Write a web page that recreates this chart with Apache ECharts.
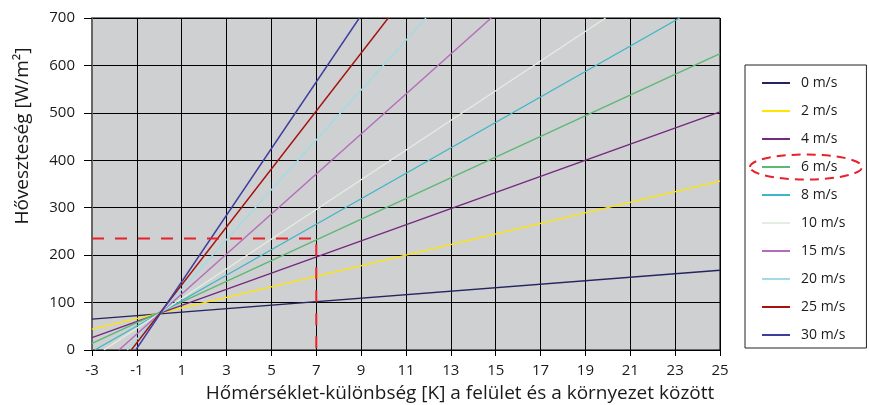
<!DOCTYPE html>
<html>
<head>
<meta charset="utf-8">
<script src="https://cdn.jsdelivr.net/npm/echarts@6/dist/echarts.min.js"></script>
<style>
html,body{margin:0;padding:0;background:#fff;}
#c{width:869px;height:405px;}
</style>
</head>
<body>
<div id="c"></div>
<script>
// ---- data ----
const xTickValues = [-3, -1, 1, 3, 5, 7, 9, 11, 13, 15, 17, 19, 21, 23, 25];
const seriesNames = ['0 m/s', '2 m/s', '4 m/s', '6 m/s', '8 m/s', '10 m/s', '15 m/s', '20 m/s', '25 m/s', '30 m/s'];
const v0 = [[-3, 65], [25, 168]];
const v2 = [[-3, 44], [25, 356]];
const v4 = [[-3, 26], [25, 502]];
const v6 = [[-3, 14], [25, 625]];
const v8 = [[-2.88, 0], [23.2, 700]];
const v10 = [[-2.47, 0], [19.9, 700]];
const v15 = [[-1.8, 0], [14.8, 700]];
const v20 = [[-1.43, 0], [11.89, 700]];
const v25 = [[-1.25, 0], [10.21, 700]];
const v30 = [[-1.05, 0], [8.92, 700]];
const guide = [[-3, 235], [7, 235], [7, 0]];

const seriesValues = [v0, v2, v4, v6, v8, v10, v15, v20, v25, v30];
const colors = ['#24245f', '#ffe600', '#74287f', '#5db874', '#3fb6c8', '#e3eedf', '#b46cba', '#a3dbe4', '#a3120f', '#3d3d9e'];

const FONT = '"Open Sans", "Noto Sans", sans-serif';
const chart = echarts.init(document.getElementById('c'), null, {renderer: 'canvas'});

const series = seriesValues.map((d, i) => ({
  name: seriesNames[i],
  type: 'line',
  data: d,
  symbol: 'none',
  clip: true,
  lineStyle: {color: colors[i], width: 1.4},
  itemStyle: {color: colors[i]},
  z: 3
}));
series.push({
  name: 'guide',
  type: 'line',
  data: guide,
  symbol: 'none',
  clip: true,
  silent: true,
  lineStyle: {color: '#e8212a', width: 2, type: [12, 11]},
  z: 4
});

chart.setOption({
  animation: false,
  backgroundColor: '#ffffff',
  textStyle: {fontFamily: FONT, color: '#1a1a1a'},
  grid: {
    left: 92, right: 149, top: 18, bottom: 55,
    outerBoundsMode: 'none',
    containLabel: false,
    show: true, backgroundColor: '#cfd0d2', borderColor: '#000', borderWidth: 1
  },
  legend: {
    data: seriesNames,
    orient: 'vertical',
    left: 745, top: 65,
    padding: [10, 21, 5, 17],
    itemGap: 12,
    itemWidth: 28, itemHeight: 2,
    icon: 'rect',
    borderColor: '#222', borderWidth: 1,
    textStyle: {fontFamily: FONT, fontSize: 14, color: '#1a1a1a', lineHeight: 16, padding: [0, 0, 0, 6]}
  },
  xAxis: {
    type: 'value',
    min: -3, max: 25,
    name: 'Hőmérséklet-különbség [K] a felület és a környezet között',
    nameLocation: 'middle',
    nameGap: 34,
    nameTextStyle: {fontFamily: FONT, fontSize: 19, color: '#1a1a1a', padding: [0, 0, 0, 108]},
    axisLine: {show: true, onZero: false, lineStyle: {color: '#000', width: 1}},
    axisTick: {show: true, length: 6, customValues: xTickValues, lineStyle: {color: '#000'}},
    axisLabel: {customValues: xTickValues, fontFamily: FONT, fontSize: 15, color: '#1a1a1a', margin: 13},
    splitLine: {show: true, lineStyle: {color: '#000', width: 1}}
  },
  yAxis: {
    type: 'value',
    min: 0, max: 700, interval: 100,
    name: 'Hőveszteség [W/m²]',
    nameLocation: 'middle',
    nameRotate: 90,
    nameGap: 60,
    nameTextStyle: {fontFamily: FONT, fontSize: 19, color: '#1a1a1a', padding: [0, 0, 0, 96]},
    axisLine: {show: true, onZero: false, lineStyle: {color: '#666', width: 2}},
    axisTick: {show: true, length: 8, lineStyle: {color: '#000'}},
    axisLabel: {fontFamily: FONT, fontSize: 15, color: '#1a1a1a', margin: 17},
    splitLine: {show: true, lineStyle: {color: '#000', width: 1}}
  },
  graphic: [{
    type: 'ellipse',
    shape: {cx: 806, cy: 167, rx: 56, ry: 12.5},
    style: {fill: 'none', stroke: '#e8212a', lineWidth: 2, lineDash: [9, 6]},
    z: 100
  }],
  series: series
});
</script>
</body>
</html>
